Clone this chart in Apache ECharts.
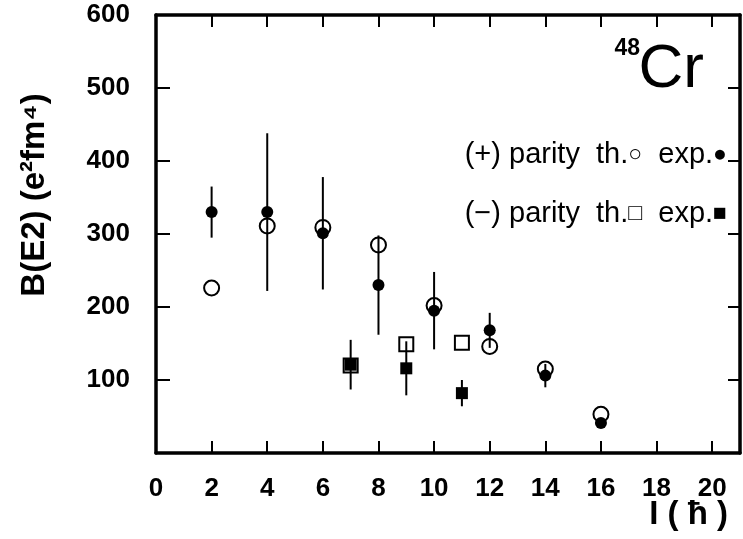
<!DOCTYPE html>
<html>
<head>
<meta charset="utf-8">
<script src="https://cdn.jsdelivr.net/npm/echarts@6/dist/echarts.min.js"></script>
<style>
  html, body { margin: 0; padding: 0; background: #fff; }
  #chart { width: 743px; height: 539px; }
</style>
</head>
<body>
<div id="chart"></div>
<script>
// spin I (hbar) for each parity
const spinsPos = [2, 4, 6, 8, 10, 12, 14, 16];
const thPos = [226, 311, 309, 285, 202, 146, 115, 53];
const expPos = [330, 330, 301, 230, 195, 168, 106, 41];
const expPosErr = [35, 108, 77, 68, 53, 24, 16, 6];

const spinsNeg = [7, 9, 11];
const thNeg = [120, 149, 151];
const expNeg = [121, 116, 82];
const expNegErr = [34, 37, 18];

const xTicks = [0, 2, 4, 6, 8, 10, 12, 14, 16, 18, 20];
const yTicks = [100, 200, 300, 400, 500, 600];

const font = 'Liberation Sans, Arial, sans-serif';

const chart = echarts.init(document.getElementById('chart'), null, { renderer: 'canvas' });

function pairs(xs, ys) {
    return xs.map((x, i) => [x, ys[i]]);
}
function bars(xs, ys, errs) {
    return xs.map((x, i) => [x, ys[i] - errs[i], ys[i] + errs[i]]);
}

function errorBar(params, api) {
    const lo = api.coord([api.value(0), api.value(1)]);
    const hi = api.coord([api.value(0), api.value(2)]);
    return {
        type: 'line',
        shape: { x1: lo[0], y1: lo[1], x2: hi[0], y2: hi[1] },
        style: { stroke: '#000', lineWidth: 2 }
    };
}

const frame = { show: true, onZero: false, lineStyle: { color: '#000', width: 3.5 } };

const option = {
    animation: false,
    backgroundColor: '#fff',
    grid: { left: 156, right: 1, top: 15, bottom: 86 },
    xAxis: [
        {
            type: 'value', min: 0, max: 21, interval: 2, position: 'bottom',
            axisLine: frame,
            axisTick: { inside: true, length: 12, lineStyle: { color: '#000', width: 2 } },
            splitLine: { show: false },
            axisLabel: {
                margin: 23, color: '#000', fontSize: 26, fontWeight: 'bold', fontFamily: font,
                formatter: v => (xTicks.indexOf(v) >= 0 ? String(v) : '')
            }
        },
        {
            type: 'value', min: 0, max: 21, interval: 2, position: 'top',
            axisLine: frame,
            axisTick: { inside: true, length: 12, lineStyle: { color: '#000', width: 2 } },
            splitLine: { show: false },
            axisLabel: { show: false }
        }
    ],
    yAxis: [
        {
            type: 'value', min: 0, max: 600, interval: 100, position: 'left',
            axisLine: frame,
            axisTick: { inside: true, length: 14, lineStyle: { color: '#000', width: 2 } },
            splitLine: { show: false },
            axisLabel: {
                margin: 26, color: '#000', fontSize: 26, fontWeight: 'bold', fontFamily: font,
                formatter: v => (yTicks.indexOf(v) >= 0 ? String(v) : '')
            }
        },
        {
            type: 'value', min: 0, max: 600, interval: 100, position: 'right',
            axisLine: frame,
            axisTick: { inside: true, length: 12, lineStyle: { color: '#000', width: 2 } },
            splitLine: { show: false },
            axisLabel: { show: false }
        }
    ],
    graphic: [
        {
            type: 'text', x: 35, y: 195, rotation: Math.PI / 2,
            style: {
                text: 'B(E2) (e\u00B2fm\u2074)', align: 'center', verticalAlign: 'middle',
                font: 'bold 33px ' + font, fill: '#000'
            }
        },
        {
            type: 'text', x: 728, y: 515,
            style: {
                text: 'I ( \u0127 )', align: 'right', verticalAlign: 'middle',
                font: 'bold 33px ' + font, fill: '#000'
            }
        },
        {
            type: 'text', x: 704, y: 70,
            style: {
                text: 'Cr', align: 'right', verticalAlign: 'middle',
                font: '62px ' + font, fill: '#000'
            }
        },
        {
            type: 'text', x: 640, y: 49,
            style: {
                text: '48', align: 'right', verticalAlign: 'middle',
                font: 'bold 23px ' + font, fill: '#000'
            }
        },
        {
            type: 'text', x: 727, y: 155,
            style: {
                text: '{a|(+) parity  th.}{s|\u25CB}{a|  exp.}{s|\u25CF}',
                align: 'right', verticalAlign: 'middle',
                rich: {
                    a: { font: '29px ' + font, fill: '#000' },
                    s: { font: '23px ' + font, fill: '#000' }
                }
            }
        },
        {
            type: 'text', x: 727, y: 214,
            style: {
                text: '{a|(\u2212) parity  th.}{s|\u25A1}{a|  exp.}{s|\u25A0}',
                align: 'right', verticalAlign: 'middle',
                rich: {
                    a: { font: '29px ' + font, fill: '#000' },
                    s: { font: '23px ' + font, fill: '#000' }
                }
            }
        }
    ],
    series: [
        {
            name: 'exp + error', type: 'custom', renderItem: errorBar,
            data: bars(spinsPos, expPos, expPosErr), z: 1
        },
        {
            name: 'exp - error', type: 'custom', renderItem: errorBar,
            data: bars(spinsNeg, expNeg, expNegErr), z: 1
        },
        {
            name: '(+) parity exp.', type: 'scatter', symbol: 'circle', symbolSize: 12,
            itemStyle: { color: '#000', opacity: 1 },
            data: pairs(spinsPos, expPos), z: 2
        },
        {
            name: '(-) parity exp.', type: 'scatter', symbol: 'rect', symbolSize: 12,
            itemStyle: { color: '#000', opacity: 1 },
            data: pairs(spinsNeg, expNeg), z: 2
        },
        {
            name: '(+) parity th.', type: 'scatter', symbol: 'circle', symbolSize: 15,
            itemStyle: { color: 'rgba(0,0,0,0)', borderColor: '#000', borderWidth: 2, opacity: 1 },
            data: pairs(spinsPos, thPos), z: 3
        },
        {
            name: '(-) parity th.', type: 'scatter', symbol: 'rect', symbolSize: 14,
            itemStyle: { color: 'rgba(0,0,0,0)', borderColor: '#000', borderWidth: 2, opacity: 1 },
            data: pairs(spinsNeg, thNeg), z: 3
        }
    ]
};

chart.setOption(option);
</script>
</body>
</html>
